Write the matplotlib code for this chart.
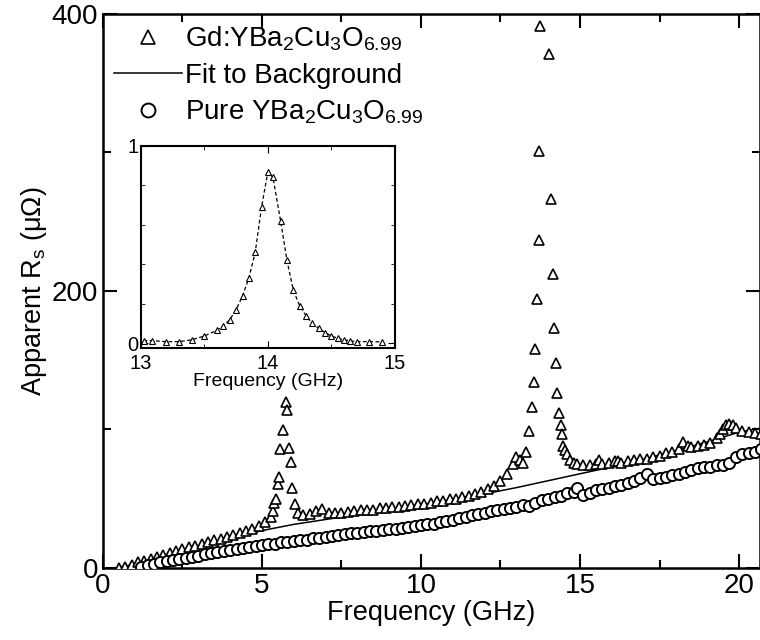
import matplotlib
matplotlib.use("Agg")
import matplotlib.pyplot as plt
from matplotlib.ticker import MultipleLocator

plt.rcParams['font.family'] = ['Liberation Sans', 'DejaVu Sans']
plt.rcParams['mathtext.fontset'] = 'custom'
plt.rcParams['mathtext.rm'] = 'Liberation Sans'
plt.rcParams['mathtext.it'] = 'Liberation Sans'
plt.rcParams['mathtext.bf'] = 'Liberation Sans'

# Gd doped sample (triangles), background + the two resonance peaks
gd_freq = [0.5, 0.7, 0.9, 1.1, 1.3, 1.5, 1.7, 1.9, 2.1, 2.3, 2.5, 2.7, 2.9, 3.1, 3.3,
           3.5, 3.7, 3.9, 4.1, 4.3, 4.5, 4.7, 4.9, 5.1,
           5.27, 5.34, 5.39, 5.43, 5.51, 5.55, 5.57, 5.65, 5.75, 5.80, 5.86, 5.90, 5.94, 6.05, 6.14,
           6.3, 6.5, 6.7, 6.9, 7.1, 7.3, 7.5, 7.7, 7.9, 8.1, 8.3, 8.5, 8.7, 8.9, 9.1, 9.3, 9.5,
           9.7, 9.9, 10.1, 10.3, 10.5, 10.7, 10.9, 11.1, 11.3, 11.5, 11.7, 11.9, 12.1, 12.3,
           12.5, 12.7, 12.9, 13.0, 13.1, 13.2,
           13.30, 13.40, 13.49, 13.55, 13.60, 13.64, 13.70, 13.72, 13.74, 14.03, 14.08, 14.14,
           14.18, 14.25, 14.29, 14.34, 14.39, 14.43, 14.48, 14.53, 14.6, 14.7, 14.8, 14.9,
           15.1, 15.3, 15.5, 15.6, 15.7, 15.9, 16.1, 16.2, 16.3, 16.5, 16.7, 16.9, 17.1, 17.3,
           17.5, 17.7, 17.9, 18.1, 18.25, 18.4, 18.5, 18.7, 18.9, 19.1, 19.3, 19.4, 19.5, 19.6,
           19.7, 19.8, 19.9, 20.1, 20.3, 20.5, 20.7]
gd_rs = [0, 1, 2.5, 4, 5, 6.5, 8, 9.5, 11, 12, 13.5, 15, 16, 17.5, 18.5,
         20, 21, 22.5, 24, 25, 26.5, 28, 30, 33,
         37, 41, 46.7, 49.6, 60.6, 66, 86, 99.6, 120, 114, 86.6, 76.7, 58, 46, 40,
         38, 39, 41, 42.5, 40, 39.5, 40, 40.5, 41, 41.5, 42, 42, 43, 43.5, 44, 44, 45,
         45.5, 46, 46.5, 47, 48, 48.5, 49.5, 50, 51, 52, 53.5, 55, 57, 59,
         63, 68, 75, 80, 78, 76,
         84, 99, 116.5, 134, 158, 194, 237, 301, 391, 371, 266, 212,
         173.5, 148, 126.6, 112, 103, 96.7, 88, 85, 82, 78, 76, 75,
         74, 74, 75, 78, 75, 75.5, 77, 77.5, 76, 77, 78, 78.5, 79, 80,
         81, 83, 84, 86, 91, 88, 87, 88, 89, 90, 94, 97, 100, 103,
         104, 103, 101, 99, 98, 97.5, 97]

# fit to background (solid line)
fit_freq = [0.5, 1, 2, 3, 4, 5, 6, 7, 8, 9, 10, 11, 12, 13, 14, 15, 16, 17, 18, 19, 20, 20.7]
fit_rs = [0, 3, 9, 15, 21, 27, 31.5, 35, 38.5, 42, 45.5, 49.5, 53.5, 58, 63, 68, 73, 78.5,
          84.5, 91, 98, 101]

# pure sample (circles)
pure_freq = [1.2, 1.4, 1.6, 1.8, 2.0, 2.2, 2.4, 2.6, 2.8, 3.0, 3.2, 3.4, 3.6, 3.8, 4.0,
             4.2, 4.4, 4.6, 4.8, 5.0, 5.2, 5.4, 5.6, 5.8, 6.0, 6.2, 6.4, 6.6, 6.8, 7.0,
             7.2, 7.4, 7.6, 7.8, 8.0, 8.2, 8.4, 8.6, 8.8, 9.0, 9.2, 9.4, 9.6, 9.8, 10.0,
             10.2, 10.4, 10.6, 10.8, 11.0, 11.2, 11.4, 11.6, 11.8, 12.0, 12.2, 12.4, 12.6,
             12.8, 13.0, 13.2, 13.4, 13.6, 13.8, 14.0, 14.2, 14.4, 14.6, 14.8, 14.9, 15.1,
             15.3, 15.5, 15.7, 15.9, 16.1, 16.3, 16.5, 16.7, 16.9, 17.1, 17.3, 17.5, 17.7,
             17.9, 18.1, 18.3, 18.5, 18.7, 18.9, 19.1, 19.3, 19.5, 19.7, 19.9, 20.1, 20.3,
             20.5, 20.7]
pure_rs = [1, 2, 3, 4, 5, 5.5, 6.5, 7.5, 8, 9, 10, 10.5, 11.5, 12.5, 13,
           14, 14.5, 15.5, 16, 16.5, 17, 17.5, 18.5, 19, 19.5, 20, 20.5, 21.5, 22, 22.5,
           23, 23.5, 24.5, 25, 25.5, 26, 26.5, 27, 27.5, 28, 28.5, 29, 29.5, 30.5, 31,
           31.5, 32, 33, 34, 35, 36, 37, 38, 39, 40, 41, 42, 42.5,
           43.5, 44, 45.5, 45, 47, 49, 50, 51, 52, 54, 55, 57.5, 53,
           54, 56, 57, 58, 59, 60, 61, 63, 65, 68, 64, 65, 66,
           67, 68, 69.5, 71, 72, 73, 73, 74, 74.5, 76, 80, 82, 83,
           84, 86]

# inset: normalised peak near 14 GHz
ins_freq = [13.02, 13.09, 13.20, 13.30, 13.40, 13.50, 13.60, 13.65, 13.70, 13.75, 13.80,
            13.85, 13.90, 13.95, 14.00, 14.04, 14.10, 14.15, 14.20, 14.25, 14.30, 14.35,
            14.40, 14.45, 14.50, 14.55, 14.60, 14.65, 14.70, 14.80, 14.90]
ins_val = [0.013, 0.013, 0.008, 0.008, 0.017, 0.037, 0.066, 0.088, 0.12, 0.17, 0.24,
           0.33, 0.46, 0.69, 0.87, 0.84, 0.62, 0.42, 0.27, 0.19, 0.14, 0.10,
           0.076, 0.054, 0.037, 0.025, 0.017, 0.012, 0.008, 0.008, 0.007]

fig = plt.figure(figsize=(7.6, 6.4), dpi=100)
ax = fig.add_axes([0.1355, 0.1125, 0.8645, 0.866])

ax.plot(gd_freq, gd_rs, linestyle='none', marker='^', markersize=7.5, markerfacecolor='white',
        markeredgecolor='black', markeredgewidth=1.2, label=r'Gd:YBa$_2$Cu$_3$O$_{6.99}$', zorder=3)
ax.plot(fit_freq, fit_rs, color='black', linewidth=1.1, label='Fit to Background', zorder=2)
ax.plot(pure_freq, pure_rs, linestyle='none', marker='o', markersize=8, markerfacecolor='white',
        markeredgecolor='black', markeredgewidth=1.4, label=r'Pure YBa$_2$Cu$_3$O$_{6.99}$', zorder=3)

ax.set_xlim(0, 20.66)
ax.set_ylim(0, 400)
ax.xaxis.set_major_locator(MultipleLocator(5))
ax.xaxis.set_minor_locator(MultipleLocator(2.5))
ax.yaxis.set_major_locator(MultipleLocator(200))
ax.yaxis.set_minor_locator(MultipleLocator(100))
ax.tick_params(which='both', direction='in', top=True, right=True, labelsize=20, width=1.5)
ax.tick_params(which='major', length=10)
ax.tick_params(which='minor', length=6)
for s in ax.spines.values():
    s.set_linewidth(1.8)
ax.set_xlabel('Frequency (GHz)', fontsize=19.5, labelpad=1)
ax.set_ylabel(r'Apparent R$_s$ (μΩ)', fontsize=19.5, labelpad=2)

leg = ax.legend(loc='upper left', frameon=False, fontsize=20, handlelength=2.45,
                handletextpad=0.12, borderaxespad=0.0, labelspacing=0.35, markerscale=1.25,
                bbox_to_anchor=(0.0, 1.0))

# inset
axi = fig.add_axes([0.1855, 0.456, 0.334, 0.316])
axi.plot(ins_freq, ins_val, linestyle=(0, (3, 2)), color='black', linewidth=0.9,
         marker='^', markersize=4, markerfacecolor='white', markeredgecolor='black',
         markeredgewidth=0.8)
axi.set_xlim(13, 15)
axi.set_ylim(-0.025, 1)
axi.xaxis.set_major_locator(MultipleLocator(1))
axi.xaxis.set_minor_locator(MultipleLocator(0.5))
axi.set_yticks([0, 1])
axi.yaxis.set_minor_locator(MultipleLocator(0.2))
axi.tick_params(which='both', direction='in', top=True, right=True, labelsize=14.5)
axi.tick_params(axis='x', pad=4)
axi.tick_params(axis='y', pad=2)
axi.tick_params(which='major', length=5)
axi.tick_params(which='minor', length=3)
for s in axi.spines.values():
    s.set_linewidth(1.5)
axi.set_xlabel('Frequency (GHz)', fontsize=14, labelpad=0)

fig.savefig('out.png', dpi=100)
